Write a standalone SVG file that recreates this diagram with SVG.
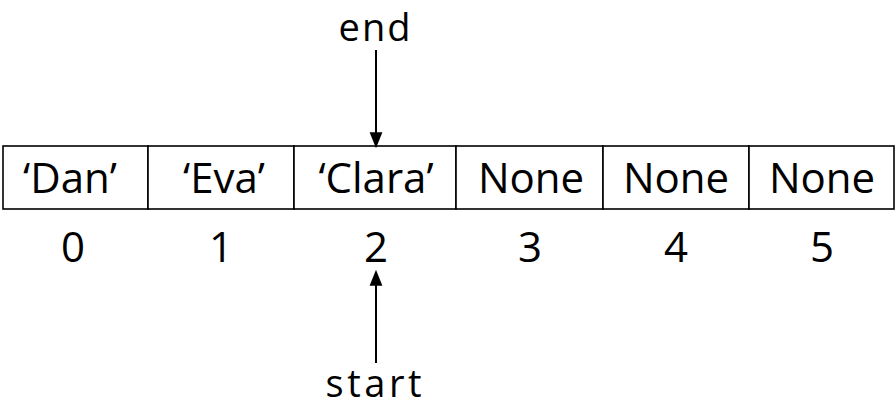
<svg xmlns="http://www.w3.org/2000/svg" width="896" height="420" viewBox="0 0 896 420">
<style>
.cell{fill:#fff;stroke:#000;stroke-width:1.6}
.t{font-family:"Open Sans","DejaVu Sans",sans-serif;font-size:42px;fill:#000;text-anchor:middle}
.lbl{font-size:38px}
.conn{stroke:#000;stroke-width:2;fill:none}
</style>
<defs>
<marker id="ah" markerWidth="16" markerHeight="20" refX="16" refY="8" orient="auto" markerUnits="userSpaceOnUse" viewBox="0 0 20 16">
<path d="M0,0 L20,8 L0,16 Z" fill="#000"/>
</marker>
</defs>
<rect width="896" height="420" fill="#fff"/>
<g id="cell0"><rect class="cell" x="3" y="146" width="145" height="63"/><text class="t" x="70" y="193">‘Dan’</text><text class="t" x="73" y="262">0</text></g>
<g id="cell1"><rect class="cell" x="148" y="146" width="146" height="63"/><text class="t" x="224" y="193">‘Eva’</text><text class="t" x="221" y="262">1</text></g>
<g id="cell2"><rect class="cell" x="294" y="146" width="162" height="63"/><text class="t" x="376" y="193">‘Clara’</text><text class="t" x="376" y="262">2</text></g>
<g id="cell3"><rect class="cell" x="456" y="146" width="147" height="63"/><text class="t" x="531" y="193">None</text><text class="t" x="530" y="262">3</text></g>
<g id="cell4"><rect class="cell" x="603" y="146" width="146" height="63"/><text class="t" x="676" y="193">None</text><text class="t" x="676" y="262">4</text></g>
<g id="cell5"><rect class="cell" x="749" y="146" width="145" height="63"/><text class="t" x="822" y="193">None</text><text class="t" x="822" y="262">5</text></g>
<g id="end"><text class="t lbl" x="374.5" y="41" textLength="72" lengthAdjust="spacing">end</text></g>
<g id="start"><text class="t lbl" x="373.5" y="397" textLength="96" lengthAdjust="spacing">start</text></g>
<g id="connectors">
<line class="conn" x1="376" y1="50" x2="376" y2="145" marker-end="url(#ah)"/>
<line class="conn" x1="376" y1="363" x2="376" y2="273" marker-end="url(#ah)"/>
</g>
</svg>
